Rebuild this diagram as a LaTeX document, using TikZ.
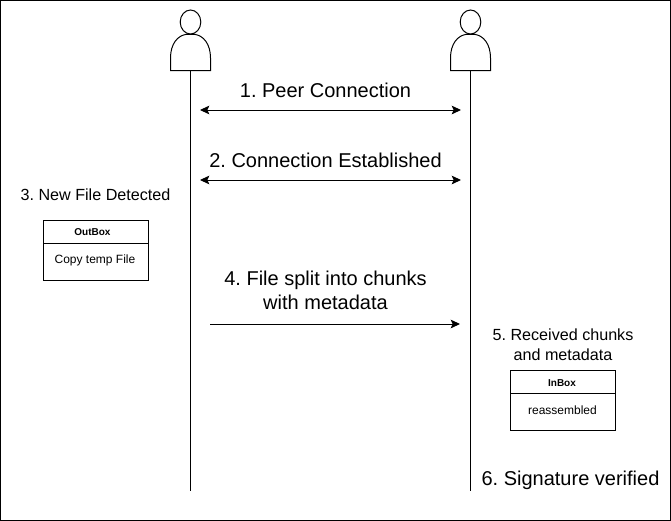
\documentclass[tikz,border=0pt]{standalone}
\usepackage{fontspec}
\setmainfont{Liberation Sans}
\usetikzlibrary{arrows.meta}
\tikzset{
  x=0.75pt,y=-0.75pt,
  ln/.style={draw=black,line width=0.75pt},
  arr/.style={ln,-{Stealth[length=7pt,width=6.5pt,inset=1.5pt]}},
  darr/.style={ln,{Stealth[length=7pt,width=6.5pt,inset=1.5pt]}-{Stealth[length=7pt,width=6.5pt,inset=1.5pt]}},
  lab/.style={inner sep=0pt,align=center,font=\fontsize{15pt}{18pt}\selectfont\frenchspacing},
  smalllab/.style={inner sep=0pt,align=center,font=\fontsize{12.1pt}{15.2pt}\selectfont\frenchspacing},
  boxtitle/.style={inner sep=0pt,font=\fontsize{7.5pt}{9pt}\selectfont\bfseries},
  boxbody/.style={inner sep=0pt,font=\fontsize{9pt}{11pt}\selectfont}
}
\begin{document}
\begin{tikzpicture}
\useasboundingbox (0,0) rectangle (671,521);
\fill[white] (0,0) rectangle (671,521);
\draw[ln,line width=1pt] (0.4,0.4) rectangle (670.6,520.6);
\coordinate (lt) at (190.5,70);
\coordinate (lb) at (190.5,491);
\coordinate (rt) at (470.5,70);
\coordinate (rb) at (470.5,491);
\draw[ln] (lt) -- (lb);
\draw[ln] (rt) -- (rb);
\foreach \cx/\nm in {190.5/a,470.5/b}{
  \begin{scope}[shift={(\cx*0.75pt,0)}]
  \draw[ln,fill=white] (-20,70.5) -- (-20,58) .. controls (-20,44) and (-13,35.5) .. (-4,34.3) -- (4,34.3) .. controls (13,35.5) and (20,44) .. (20,58) -- (20,70.5) -- cycle;
  \draw[ln,fill=white] (0,22) ellipse[x radius=10.3,y radius=12];
  \end{scope}
}
\coordinate (p1l) at (200,110);
\coordinate (p1r) at (461,110);
\coordinate (p2l) at (200,180);
\coordinate (p2r) at (461,180);
\coordinate (p4l) at (210,324);
\coordinate (p4r) at (460,324);
\draw[darr] (p1l) -- (p1r);
\draw[darr] (p2l) -- (p2r);
\draw[arr] (p4l) -- (p4r);
\node[lab] (t1) at (325.5,90) {1. Peer Connection};
\node[lab] (t2) at (325.5,160) {2. Connection Established};
\node[smalllab] (t3) at (95.5,194.5) {3. New File Detected};
\node[lab] (t4) at (325.5,290) {4. File split into chunks\\with metadata};
\node[smalllab] (t5) at (563,345) {5. Received chunks\\and metadata};
\node[lab] (t6) at (570.5,480) {6. Signature verified};
\draw[ln] (43,220.5) rectangle (148,280.5);
\draw[ln] (43,243.5) -- (148,243.5);
\node[boxtitle] (ot) at (92.5,232.5) {OutBox};
\node[boxbody] (ob) at (95,260.5) {Copy temp File};
\draw[ln] (510.5,370.5) rectangle (615.5,430.5);
\draw[ln] (510.5,393.5) -- (615.5,393.5);
\node[boxtitle] (it) at (562,383) {InBox};
\node[boxbody] (ib) at (562.5,410) {reassembled};
\end{tikzpicture}
\end{document}
